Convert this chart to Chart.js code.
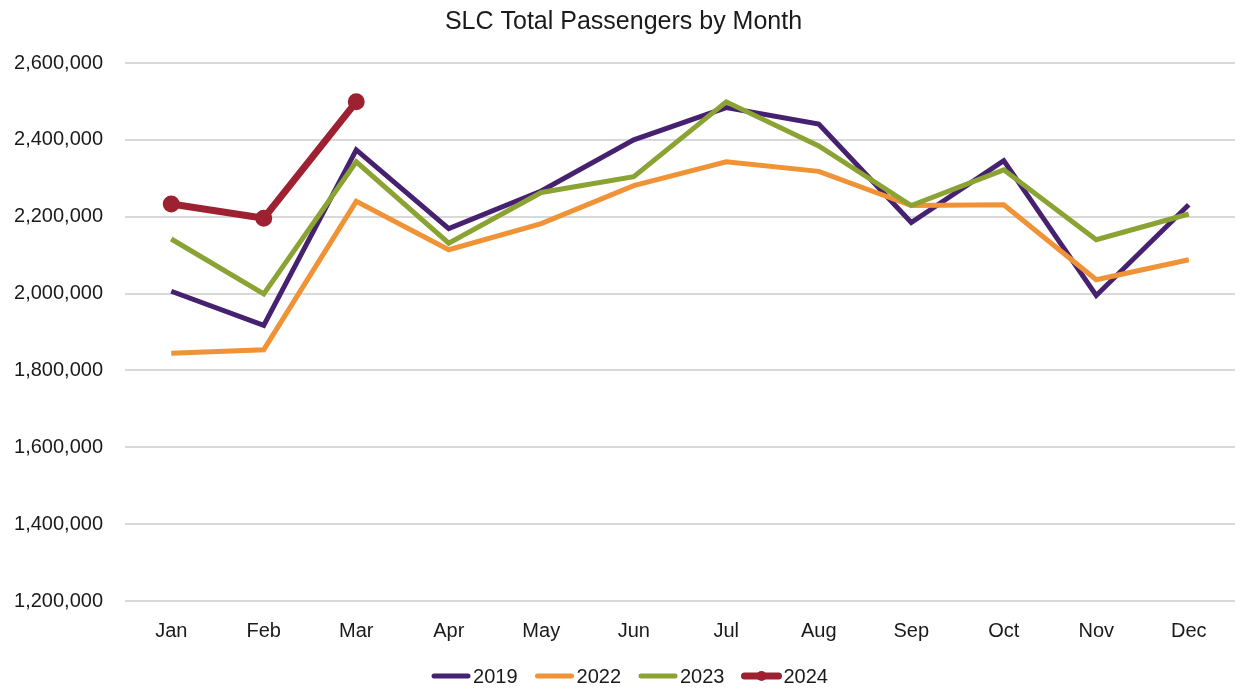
<!DOCTYPE html>
<html lang="en">
<head>
    <meta charset="UTF-8">
    <title>SLC Total Passengers by Month</title>
    <script src="https://cdn.jsdelivr.net/npm/chart.js"></script>
    <style>
        body { margin: 0; background: #fff; }
        #wrap { width: 1241px; height: 689px; }
    </style>
</head>
<body>
    <div id="wrap"><canvas id="chart" width="1241" height="689"></canvas></div>
    <script>
        // data
        const months = ['Jan', 'Feb', 'Mar', 'Apr', 'May', 'Jun', 'Jul', 'Aug', 'Sep', 'Oct', 'Nov', 'Dec'];
        const pax2019 = [2006000, 1917000, 2374000, 2169000, 2267000, 2400000, 2484000, 2441000, 2185000, 2346000, 1995000, 2231000];
        const pax2022 = [1845000, 1854000, 2240000, 2114000, 2182000, 2281000, 2343000, 2318000, 2229000, 2231000, 2036000, 2088000];
        const pax2023 = [2142000, 1999000, 2343000, 2131000, 2263000, 2304000, 2499000, 2384000, 2229000, 2322000, 2140000, 2207000];
        const pax2024 = [2233000, 2196000, 2499000];
        const yTicks = [1200000, 1400000, 1600000, 1800000, 2000000, 2200000, 2400000, 2600000];

        const FONT = '"Liberation Sans", Arial, sans-serif';

        const series = [
            { label: '2019', data: pax2019, color: '#46216f', width: 5, dot: false, order: 4 },
            { label: '2022', data: pax2022, color: '#ef9336', width: 5, dot: false, order: 3 },
            { label: '2023', data: pax2023, color: '#8aa332', width: 5, dot: false, order: 2 },
            { label: '2024', data: pax2024, color: '#9e2131', width: 7, dot: true, order: 1 }
        ];

        // simple legend drawn under the x axis, like the original
        const bottomLegend = {
            id: 'bottomLegend',
            afterDraw(chart) {
                const ctx = chart.ctx;
                ctx.save();
                ctx.font = '20px ' + FONT;
                ctx.textBaseline = 'middle';
                const lineLen = 38, gap = 3, spacing = 18;
                let total = 0;
                series.forEach(s => { total += lineLen + gap + ctx.measureText(s.label).width + spacing; });
                total -= spacing;
                let x = 630 - total / 2;
                const y = 676;
                series.forEach(s => {
                    ctx.strokeStyle = s.color;
                    ctx.lineWidth = s.width;
                    ctx.lineCap = 'round';
                    ctx.beginPath();
                    ctx.moveTo(x + 2, y);
                    ctx.lineTo(x + lineLen - 2, y);
                    ctx.stroke();
                    if (s.dot) {
                        ctx.fillStyle = s.color;
                        ctx.beginPath();
                        ctx.arc(x + lineLen / 2, y, 5, 0, Math.PI * 2);
                        ctx.fill();
                    }
                    ctx.fillStyle = '#1a1a1a';
                    ctx.fillText(s.label, x + lineLen + gap, y + 1);
                    x += lineLen + gap + ctx.measureText(s.label).width + spacing;
                });
                ctx.restore();
            }
        };

        new Chart(document.getElementById('chart'), {
            type: 'line',
            data: {
                labels: months,
                datasets: series.map(s => ({
                    label: s.label,
                    data: s.data,
                    borderColor: s.color,
                    backgroundColor: s.color,
                    borderWidth: s.width,
                    pointRadius: s.dot ? 5 : 0,
                    pointHoverRadius: s.dot ? 5 : 0,
                    tension: 0,
                    order: s.order
                }))
            },
            options: {
                responsive: false,
                animation: false,
                layout: { autoPadding: false, padding: { left: 12, right: 6, top: 0, bottom: 28 } },
                plugins: {
                    legend: { display: false },
                    tooltip: { enabled: false },
                    title: {
                        display: true,
                        text: 'SLC Total Passengers by Month',
                        color: '#1a1a1a',
                        font: { family: FONT, size: 25, weight: 'normal' },
                        padding: { top: 7, bottom: 26 }
                    }
                },
                scales: {
                    x: {
                        offset: true,
                        afterFit(scale) { scale.paddingLeft = 0; scale.paddingRight = 0; },
                        grid: { display: false, drawTicks: false },
                        border: { display: false },
                        ticks: { color: '#1a1a1a', font: { family: FONT, size: 20 }, padding: 18 }
                    },
                    y: {
                        min: 1200000,
                        max: 2600000,
                        afterFit(scale) { scale.width = 113; },
                        afterBuildTicks(scale) { scale.ticks = yTicks.map(v => ({ value: v })); },
                        grid: { color: '#d9d9d9', lineWidth: 2, drawTicks: false },
                        border: { display: false },
                        ticks: {
                            color: '#1a1a1a',
                            font: { family: FONT, size: 20 },
                            padding: 22,
                            callback: v => v.toLocaleString('en-US')
                        }
                    }
                }
            },
            plugins: [bottomLegend]
        });
    </script>
</body>
</html>
